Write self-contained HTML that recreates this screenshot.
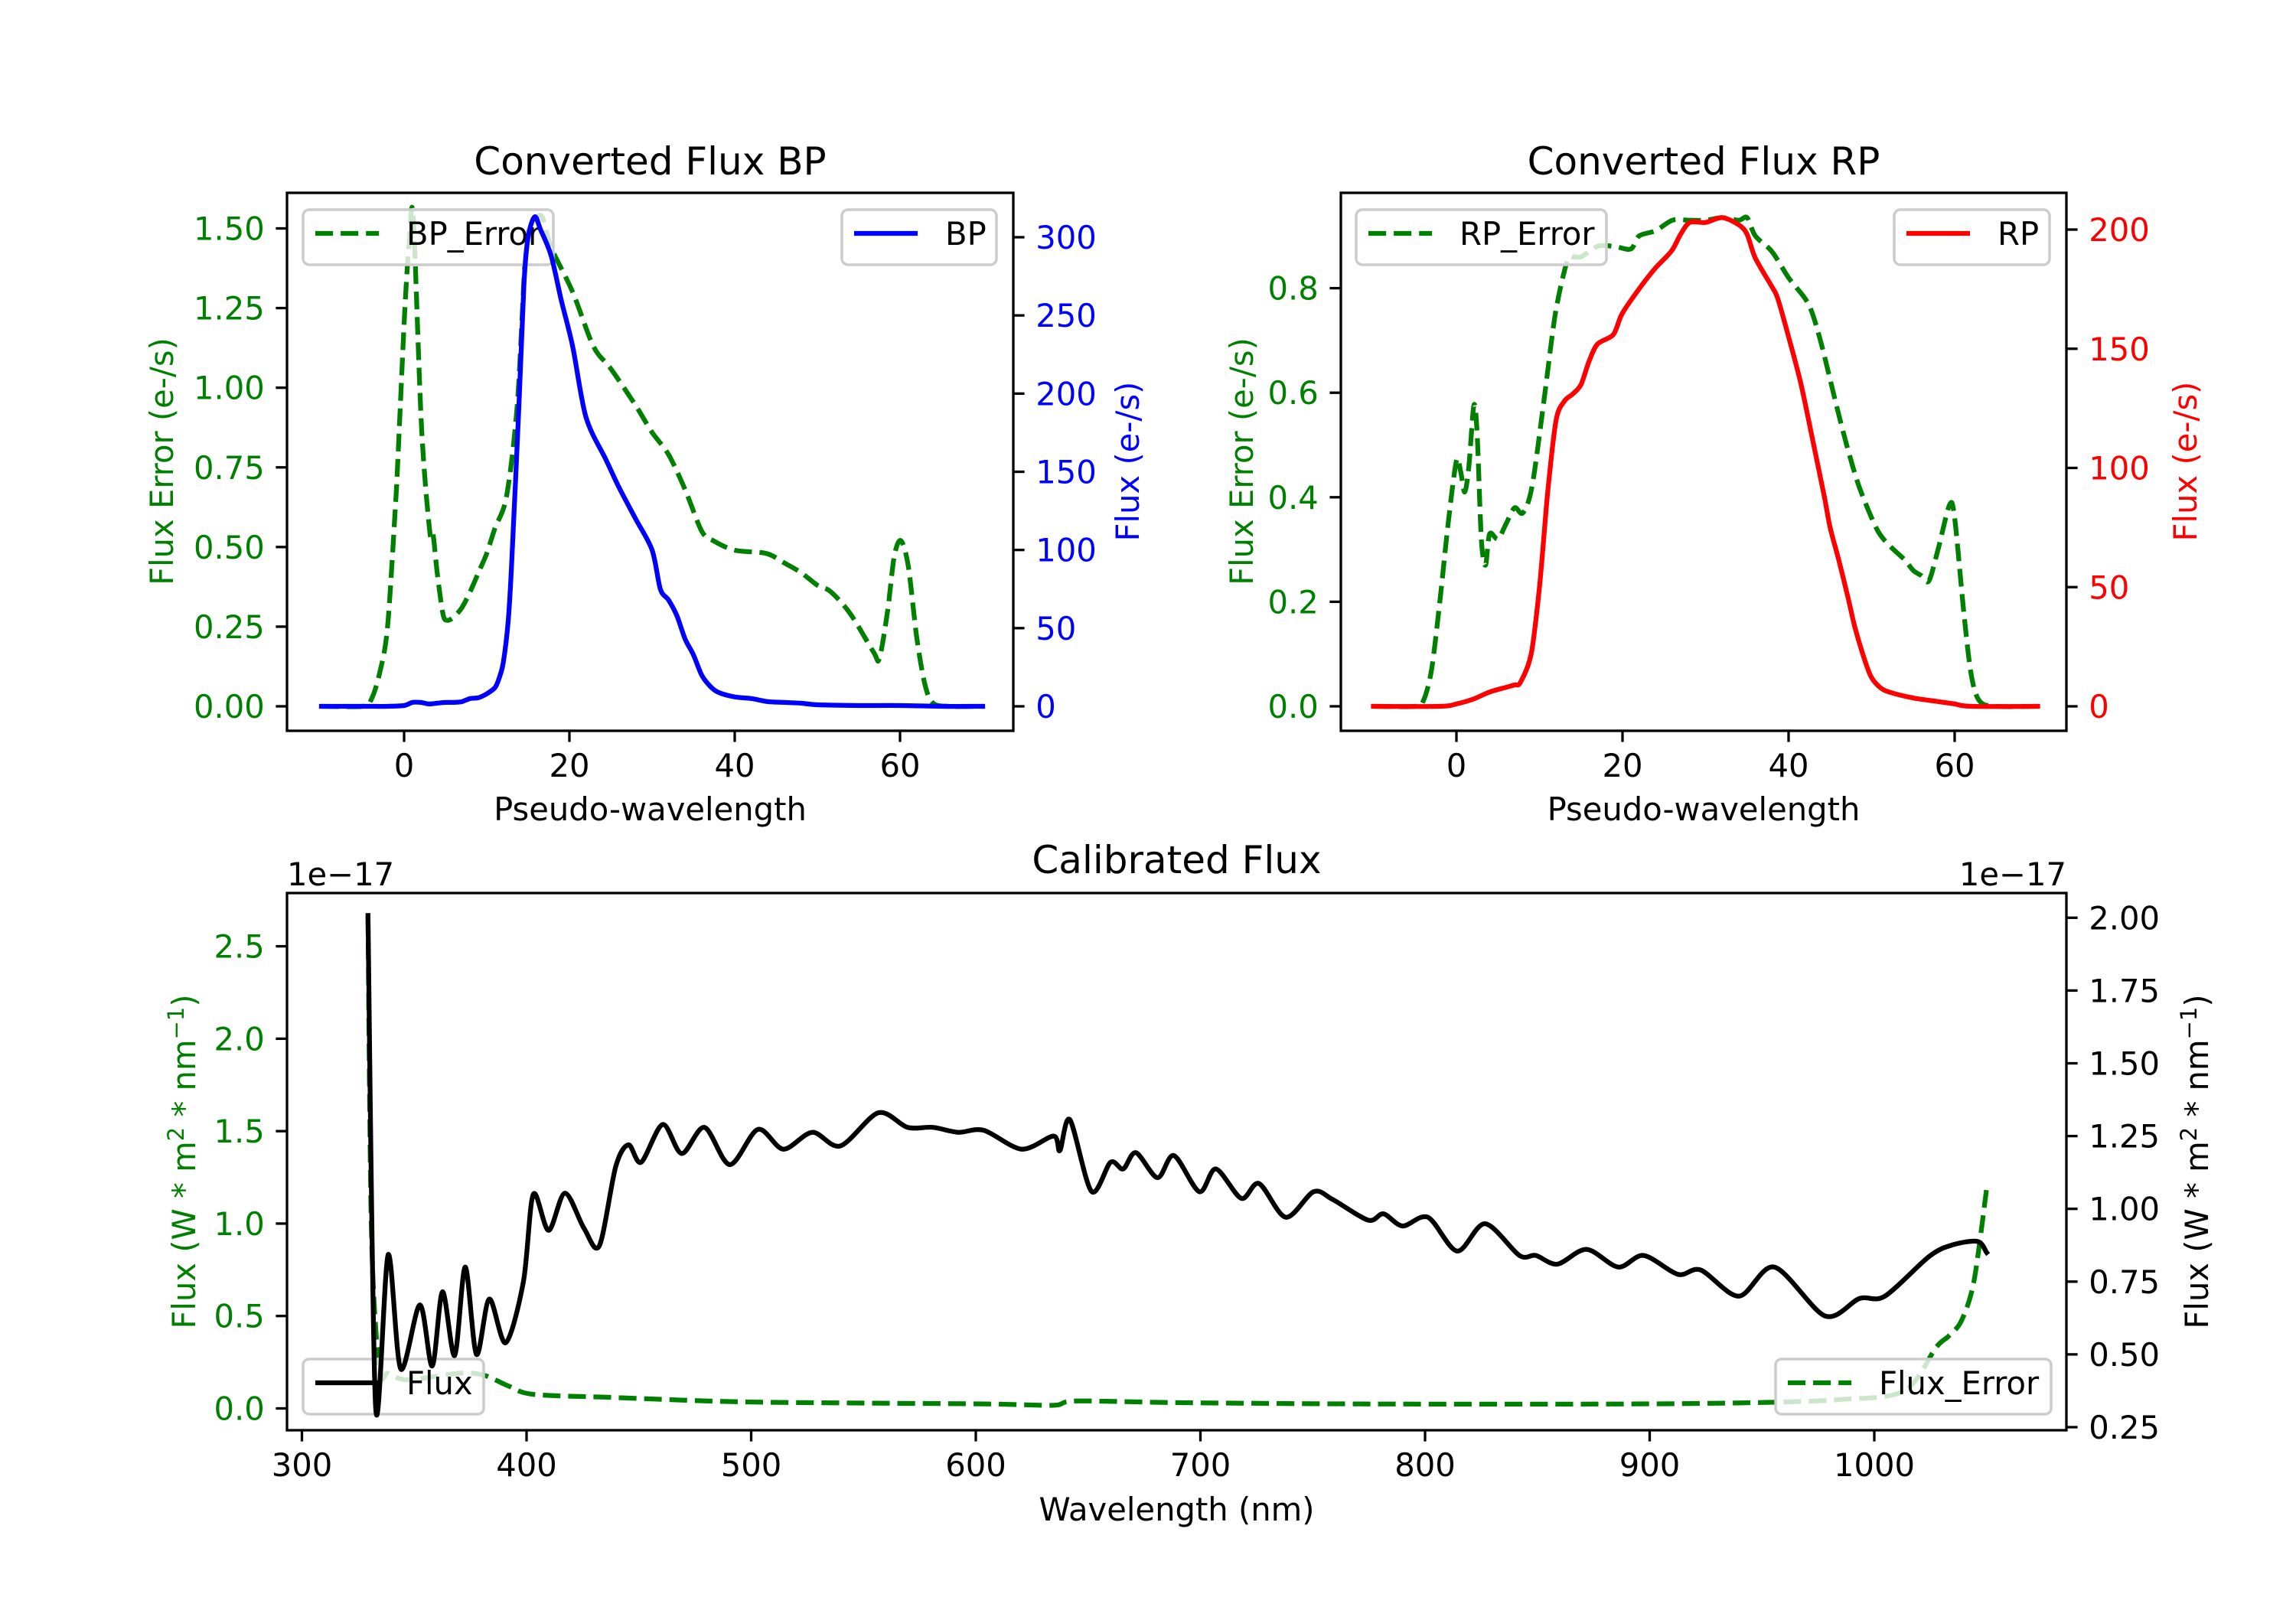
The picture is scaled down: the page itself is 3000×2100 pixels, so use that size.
<!DOCTYPE html>
<html><head><meta charset="utf-8"><style>
html,body{margin:0;padding:0;background:#fff}
svg{display:block;font-family:"DejaVu Sans","Liberation Sans",sans-serif}
</style></head><body>
<svg id="fig" width="3000" height="2100" viewBox="0 0 3000 2100" xmlns="http://www.w3.org/2000/svg">
<rect x="0" y="0" width="3000" height="2100" fill="#fff"/>
</svg>
<script>
// ---- BP panel data ----
const bpX   = [-10,-5,-2,0,1,2,3,4,5,6,7,8,9,10,11,11.5,12,12.6,13,13.9,14.5,15,15.8,16.5,17.8,19,20.4,22,24.4,26,28,30,31,32,33,34,35,36,37,38,40,42,44,46,48,50,55,60,65,70];
const bpFlux= [0,0,0,0.5,2.5,2.5,1.5,2,2.5,2.5,3,5,5.5,8,12,18,28,55,90,193,270,300,313,305,288,260,230,185,158,140,120,100,75,68,58,43,33,20,13,9,6,5,3,2.5,2,1,0.5,0.5,0,0];
const bpErrX= [-10,-5,-4,-3,-2,-1,-0.8,0,0.3,0.6,1.1,2.1,3.1,3.5,4,4.7,5.2,6,7,8,9,10,11,12.4,13.7,14.7,15.3,16.6,17.8,20.4,22.9,25,28,30,32,34,36,37.4,40,43.8,46,48,50,51.6,54,56.8,57.5,58.5,59.3,60.1,61,62,63,64,66,70];
const bpErr = [0,0,0.02,0.1,0.25,0.65,0.75,1.2,1.34,1.45,1.54,0.88,0.55,0.54,0.42,0.29,0.27,0.28,0.31,0.36,0.42,0.48,0.56,0.66,0.95,1.43,1.5,1.54,1.44,1.3,1.13,1.06,0.945,0.86,0.79,0.68,0.55,0.52,0.49,0.48,0.45,0.42,0.38,0.36,0.29,0.17,0.15,0.3,0.47,0.52,0.44,0.22,0.07,0.01,0,0];
// ---- RP panel data ----
const rpX   = [-10,-2,0,2,4,6,7,7.7,9,10,11,12,13,14,15,16,17,18.9,20,22.4,24,25.9,27,28.1,30,32,34,35,36,38,38.7,40,41.5,43,44.3,45,46,47.2,48,49.3,50,51,52.1,55,58,60,62,70];
const rpFlux= [0,0,1,3,6,8,9,10,22,50,90,120,128,131,135,145,152,156,165,177,184,191,198,203,203,205,202,198,188,176,171,155,135,110,88,75,62,45,33,18,12,8,6,3.5,2,1,0,0];
const rpErrX= [-10,-5,-4,-3,-2,-1,0,0.5,1,1.5,2.1,2.5,3,3.5,4,5,6,7,8,9.1,10.5,11.9,13.3,14,15,17,19,21,22,24,26,28,30,32,34,35,36,38,40,42,42.9,44,45.7,47,48.5,50.6,52,54,55,56,56.9,58,59.4,60,61.1,62,63,65,70];
const rpErr = [0,0,0.01,0.07,0.2,0.35,0.47,0.45,0.41,0.46,0.576,0.52,0.32,0.27,0.33,0.32,0.35,0.38,0.37,0.42,0.58,0.75,0.85,0.86,0.86,0.88,0.88,0.875,0.9,0.91,0.93,0.93,0.93,0.935,0.93,0.935,0.9,0.87,0.82,0.78,0.75,0.69,0.58,0.5,0.42,0.34,0.31,0.28,0.26,0.25,0.24,0.3,0.386,0.36,0.18,0.06,0.01,0,0];
// ---- Calibrated panel data ----
const calX  = [329.4,332.8,338.4,344,352.5,358,362.6,368,372.7,377.7,383.4,390.7,398.6,403,409.8,417.1,425.6,432.4,439.7,445.4,451,460.6,469.1,479.2,490.5,503,514.3,527.2,539.7,556.6,569.6,580.9,592.2,603.5,620.4,634.6,637.4,641.9,651.5,660,665.6,671.3,680.9,688.2,699.5,706.9,718.2,726.1,738,750.4,758.9,774.7,781.5,790,801.3,814.3,826.7,842,849.3,858.9,871.9,886,897.3,912.6,922.7,939.7,955.5,978.1,993.4,1004.7,1024.5,1034.7,1046,1050];
const calFlux=[2.008,0.32,0.843,0.45,0.67,0.46,0.715,0.496,0.8,0.5,0.69,0.54,0.75,1.05,0.926,1.054,0.933,0.873,1.145,1.22,1.16,1.29,1.19,1.28,1.152,1.273,1.205,1.263,1.216,1.33,1.28,1.28,1.263,1.27,1.205,1.25,1.2,1.306,1.06,1.16,1.137,1.193,1.107,1.183,1.059,1.137,1.036,1.087,0.971,1.059,1.032,0.961,0.983,0.941,0.971,0.855,0.949,0.84,0.84,0.81,0.861,0.8,0.84,0.775,0.79,0.7,0.8,0.632,0.692,0.7,0.837,0.876,0.888,0.85];
const calErrX=[329.4,331,334.5,338.4,347,369.6,380.9,392.2,403,437,493.5,550,606.5,634.6,644.8,691,776,889,945.5,985,1013.4,1027.5,1033,1038.8,1044.4,1050];
const calErr =[2.66,0.93,0.21,0.19,0.155,0.19,0.18,0.12,0.076,0.06,0.036,0.029,0.024,0.017,0.04,0.031,0.024,0.024,0.031,0.048,0.095,0.33,0.39,0.475,0.69,1.19];
// tick labels
const bpLeftTicks=[0,0.25,0.5,0.75,1.0,1.25,1.5];
const bpLeftLabels=["0.00","0.25","0.50","0.75","1.00","1.25","1.50"];
const bpRightTicks=[0,50,100,150,200,250,300];
const xTicksPW=[0,20,40,60];
const rpLeftTicks=[0,0.2,0.4,0.6,0.8];
const rpLeftLabels=["0.0","0.2","0.4","0.6","0.8"];
const rpRightTicks=[0,50,100,150,200];
const calXTicks=[300,400,500,600,700,800,900,1000];
const calLeftTicks=[0,0.5,1.0,1.5,2.0,2.5];
const calLeftLabels=["0.0","0.5","1.0","1.5","2.0","2.5"];
const calRightTicks=[0.25,0.5,0.75,1.0,1.25,1.5,1.75,2.0];
const calRightLabels=["0.25","0.50","0.75","1.00","1.25","1.50","1.75","2.00"];

const NS="http://www.w3.org/2000/svg";
const svg=document.getElementById('fig');
function mk(tag,attrs,parent){const e=document.createElementNS(NS,tag);for(const k in attrs)e.setAttribute(k,attrs[k]);(parent||svg).appendChild(e);return e;}
function lin(d0,d1,p0,p1){return v=>p0+(v-d0)*(p1-p0)/(d1-d0);}
const FS=41.7, TL=14.6, TW=3.3, LW=6.25, DASH="23.1 10";

function line(xs,ys,sx,sy,color,dash,name){
  const P=xs.map((x,i)=>[sx(x),sy(ys[i])]);
  let d="M"+P[0][0].toFixed(1)+","+P[0][1].toFixed(1);
  const t=0.5/3;
  for(let i=0;i<P.length-1;i++){
    const p0=P[Math.max(0,i-1)],p1=P[i],p2=P[i+1],p3=P[Math.min(P.length-1,i+2)];
    const c1=[p1[0]+(p2[0]-p0[0])*t*0.9,p1[1]+(p2[1]-p0[1])*t*0.9];
    const c2=[p2[0]-(p3[0]-p1[0])*t*0.9,p2[1]-(p3[1]-p1[1])*t*0.9];
    d+="C"+c1[0].toFixed(1)+","+c1[1].toFixed(1)+" "+c2[0].toFixed(1)+","+c2[1].toFixed(1)+" "+p2[0].toFixed(1)+","+p2[1].toFixed(1);
  }
  const p=mk('path',{d:d,fill:'none',stroke:color,'stroke-width':LW,'stroke-linejoin':'round','stroke-linecap':dash?'butt':'square'});
  if(dash)p.setAttribute('stroke-dasharray',DASH);
  
  
  return p;
}
function txt(x,y,s,opts,name){
  const t=mk('text',Object.assign({x:x,y:y,'font-size':FS,fill:'#000'},opts||{}));
  t.textContent=s;
  
  
  return t;
}
function frame(x0,y0,x1,y1,name){
  const r=mk('rect',{x:x0,y:y0,width:x1-x0,height:y1-y0,fill:'none',stroke:'#000','stroke-width':TW});
  
  
}
function yTicks(vals,labels,sy,xAxis,side,color,name){
  vals.forEach((v,i)=>{
    const y=sy(v);
    const x2= side==='left'? xAxis-TL : xAxis+TL;
    const l=mk('line',{x1:xAxis,y1:y,x2:x2,y2:y,stroke:'#000','stroke-width':TW});
    
    
    if(side==='left') txt(xAxis-TL-14.6,y+15,labels[i],{'text-anchor':'end',fill:color},name+'-label');
    else txt(xAxis+TL+14.6,y+15,labels[i],{'text-anchor':'start',fill:color},name+'-label');
  });
}
function xTicks(vals,sx,yAxis,name){
  vals.forEach(v=>{
    const x=sx(v);
    const l=mk('line',{x1:x,y1:yAxis,x2:x,y2:yAxis+TL,stroke:'#000','stroke-width':TW});
    
    
    txt(x,yAxis+TL+14.6+31,String(v),{'text-anchor':'middle'},name+'-label');
  });
}
function legend(x,y,w,label,color,dash,name){
  const g=mk('g',{});
  
  
  mk('rect',{x:x,y:y,width:w,height:72,rx:8,fill:'#fff','fill-opacity':0.8,stroke:'#cccccc','stroke-width':3.5},g);
  const l=mk('line',{x1:x+16,y1:y+31,x2:x+99,y2:y+31,stroke:color,'stroke-width':LW},g);
  if(dash)l.setAttribute('stroke-dasharray',DASH);
  const t=mk('text',{x:x+135,y:y+46,'font-size':FS,fill:'#000'},g);
  t.textContent=label;
}
function vlabel(x,y,s,color,name){
  const t=mk('text',{x:0,y:0,'font-size':FS,fill:color,'text-anchor':'middle',transform:`translate(${x},${y}) rotate(-90)`});
  t.textContent=s;
  
  
  return t;
}

// ===== BP panel =====
{
  const X0=375,X1=1324,Y0=252,Y1=955;
  const sx=lin(0,20,528,744), syL=lin(0,1.5,923,298.5), syR=lin(0,300,923,310);
  line(bpErrX,bpErr,sx,syL,'#008000',true,'bp-error-line');
  legend(396,274,327,'BP_Error','#008000',true,'bp-error-legend');
  line(bpX,bpFlux,sx,syR,'#0000ff',false,'bp-flux-line');
  legend(1100,274,202,'BP','#0000ff',false,'bp-legend');
  frame(X0,Y0,X1,Y1,'bp-axes-frame');
  yTicks(bpLeftTicks,bpLeftLabels,syL,X0,'left','#008000','bp-left-y');
  yTicks(bpRightTicks,bpRightTicks.map(String),syR,X1,'right','#0000ff','bp-right-y');
  xTicks(xTicksPW,sx,Y1,'bp-x');
  txt((X0+X1)/2,228,'Converted Flux BP',{'text-anchor':'middle','font-size':50},'bp-title');
  txt((X0+X1)/2,1072,'Pseudo-wavelength',{'text-anchor':'middle'},'bp-x-axis-title');
  vlabel(226,603,'Flux Error (e-/s)','#008000','bp-left-y-axis-title');
  vlabel(1488,603,'Flux (e-/s)','#0000ff','bp-right-y-axis-title');
}
// ===== RP panel =====
{
  const X0=1752,X1=2700,Y0=252,Y1=955;
  const sx=lin(0,20,1903,2120), syL=lin(0,0.8,923,376.6), syR=lin(0,200,923,300);
  line(rpErrX,rpErr,sx,syL,'#008000',true,'rp-error-line');
  legend(1772,274,327,'RP_Error','#008000',true,'rp-error-legend');
  line(rpX,rpFlux,sx,syR,'#ff0000',false,'rp-flux-line');
  legend(2475,274,203,'RP','#ff0000',false,'rp-legend');
  frame(X0,Y0,X1,Y1,'rp-axes-frame');
  yTicks(rpLeftTicks,rpLeftLabels,syL,X0,'left','#008000','rp-left-y');
  yTicks(rpRightTicks,rpRightTicks.map(String),syR,X1,'right','#ff0000','rp-right-y');
  xTicks(xTicksPW,sx,Y1,'rp-x');
  txt((X0+X1)/2,228,'Converted Flux RP',{'text-anchor':'middle','font-size':50},'rp-title');
  txt((X0+X1)/2,1072,'Pseudo-wavelength',{'text-anchor':'middle'},'rp-x-axis-title');
  vlabel(1637,603,'Flux Error (e-/s)','#008000','rp-left-y-axis-title');
  vlabel(2870,603,'Flux (e-/s)','#ff0000','rp-right-y-axis-title');
}
// ===== Calibrated panel =====
{
  const X0=375,X1=2700,Y0=1167,Y1=1869;
  const sx=lin(300,1000,394.5,2449), syL=lin(0,2.5,1840.5,1236.6), syR=lin(0.25,2.0,1865,1199.3);
  line(calErrX,calErr,sx,syL,'#008000',true,'calibrated-error-line');
  legend(2320,1776,360,'Flux_Error','#008000',true,'flux-error-legend');
  legend(396,1776,236,'Flux','#000000',false,'flux-legend');
  line(calX,calFlux,sx,syR,'#000000',false,'calibrated-flux-line');
  frame(X0,Y0,X1,Y1,'calibrated-axes-frame');
  yTicks(calLeftTicks,calLeftLabels,syL,X0,'left','#008000','cal-left-y');
  yTicks(calRightTicks,calRightLabels,syR,X1,'right','#000000','cal-right-y');
  xTicks(calXTicks,sx,Y1,'cal-x');
  txt((X0+X1)/2,1141,'Calibrated Flux',{'text-anchor':'middle','font-size':50},'calibrated-title');
  txt(375,1157,'1e\u221217',{'text-anchor':'start'},'left-offset-text');
  txt(2700,1157,'1e\u221217',{'text-anchor':'end'},'right-offset-text');
  txt((X0+X1)/2,1987,'Wavelength (nm)',{'text-anchor':'middle'},'calibrated-x-axis-title');
  function unitLabel(x,color,name){
    const t=vlabel(x,1518,'','#000',name);
    t.setAttribute('fill',color);
    const parts=[['Flux (W * m',0],['2',1],[' * nm',0],['\u2212',1],['1',1],[')',0]];
    parts.forEach(p=>{const s=mk('tspan',{},t);s.textContent=p[0];if(p[1]){s.setAttribute('font-size',29);s.setAttribute('dy','-15');}else{s.setAttribute('dy', '0');}
    });
    const ts=t.querySelectorAll('tspan');
    ts[2].setAttribute('dy','15');ts[5].setAttribute('dy','15');ts[4].setAttribute('dy','0');
  }
  unitLabel(255,'#008000','cal-left-y-axis-title');
  unitLabel(2885,'#000000','cal-right-y-axis-title');
}
</script>
</body></html>
